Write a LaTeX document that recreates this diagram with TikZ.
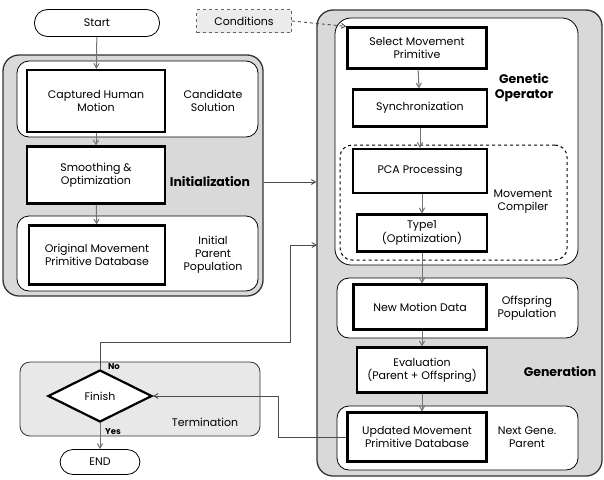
\documentclass[tikz,border=0pt]{standalone}
\usepackage{fontspec}
\setmainfont{Poppins}
\usetikzlibrary{shapes.geometric, arrows, positioning}

\begin{document}
\begin{tikzpicture}[
    x=1pt, y=-1pt,
    font=\fontsize{11}{13}\selectfont,
    block/.style={rectangle, draw=black, line width=2.2pt, fill=white, align=center, inner sep=2pt},
    term/.style={rectangle, rounded corners=13pt, draw=black, line width=0.8pt, fill=white},
    panel/.style={rectangle, rounded corners=16pt, draw=black!80, line width=1.3pt, fill=gray!30},
    group/.style={rectangle, rounded corners=12pt, draw=black, line width=0.8pt, fill=white},
    tag/.style={align=center},
    bigtag/.style={align=center, font=\fontsize{12.5}{15}\selectfont\bfseries},
    arrow/.style={->, >=angle 60, line width=1pt, black!55},
    link/.style={->, >=angle 60, line width=0.9pt, black!70}
]
\useasboundingbox (0,0) rectangle (604,479);

% Background panels
\node[panel, minimum width=260pt, minimum height=241pt] (initp) at (133,175.5) {};
\node[panel, minimum width=285pt, minimum height=466pt] (genp) at (459.5,243) {};
\node[panel, rounded corners=10pt, line width=0.8pt, fill=gray!18, minimum width=240pt, minimum height=74pt] (termp) at (140,399) {};

% Group boxes
\node[group, minimum width=241pt, minimum height=76pt] (candg) at (137.5,99) {};
\node[group, minimum width=241pt, minimum height=75pt] (initg) at (137.5,253.5) {};
\node[group, rounded corners=16pt, minimum width=243pt, minimum height=247pt] (opg) at (456.5,141.5) {};
\node[group, dashed, line width=1pt, minimum width=227pt, minimum height=115pt] (compg) at (453.5,202.5) {};
\node[group, minimum width=241pt, minimum height=60pt] (offg) at (457.5,308) {};
\node[group, minimum width=241pt, minimum height=64pt] (nextg) at (457.5,438) {};

% Start, conditions, end
\node[term, minimum width=125pt, minimum height=27pt] (start) at (97,23) {Start};
\node[rectangle, dashed, draw=black!60, fill=gray!15, line width=0.8pt, minimum width=95pt, minimum height=23pt] (cond) at (244,21) {Conditions};
\node[term, minimum width=80pt, minimum height=25pt] (end) at (100,462) {END};

% Initialization blocks
\node[block, minimum width=138pt, minimum height=62pt] (capt) at (96,101) {Captured Human\\Motion};
\node[block, minimum width=138pt, minimum height=57pt] (smooth) at (96,175) {Smoothing \&\\Optimization};
\node[block, minimum width=136pt, minimum height=59pt] (origdb) at (97,255) {Original Movement\\Primitive Database};

% Generation blocks
\node[block, minimum width=139pt, minimum height=41pt] (select) at (417,48) {Select Movement\\Primitive};
\node[block, minimum width=134pt, minimum height=37pt] (sync) at (420,108) {Synchronization};
\node[block, minimum width=134pt, minimum height=44pt] (pca) at (420,171) {PCA Processing};
\node[block, minimum width=130pt, minimum height=37pt] (type1) at (422,233) {Type1\\(Optimization)};
\node[block, minimum width=133pt, minimum height=45pt] (newmot) at (420,307) {New Motion Data};
\node[block, minimum width=130pt, minimum height=45pt] (eval) at (422,370) {Evaluation\\(Parent + Offspring)};
\node[block, minimum width=139pt, minimum height=49pt] (updb) at (417,437) {Updated Movement\\Primitive Database};

% Termination
\node[diamond, draw=black, line width=2.2pt, fill=white, aspect=2, minimum width=104pt, minimum height=52pt, inner sep=0pt] (finish) at (100,396) {Finish};

% Labels
\node[tag] (candlbl) at (213,101) {Candidate\\Solution};
\node[bigtag] (initlbl) at (210,182) {Initialization};
\node[tag] (poplbl) at (213,255) {Initial\\Parent\\Population};
\node[bigtag] (oplbl) at (524,88) {Genetic\\Operator};
\node[tag] (complbl) at (523,202) {Movement\\Compiler};
\node[tag] (offlbl) at (527,308) {Offspring\\Population};
\node[bigtag] (genlbl) at (560,372) {Generation};
\node[tag] (nextlbl) at (527,437) {Next Gene.\\Parent};
\node[tag] (termlbl) at (205,422) {Termination};
\node[font=\fontsize{8.5}{9}\selectfont\bfseries] (nolbl) at (114,367) {No};
\node[font=\fontsize{8.5}{9}\selectfont\bfseries] (yeslbl) at (113,432) {Yes};

% Turning points
\coordinate (loopx) at (290,342);
\coordinate (backin) at (317,245);
\coordinate (retx) at (278,437);

% Arrows
\draw[arrow] (start) -- (capt);
\draw[arrow] (capt) -- (smooth);
\draw[arrow] (smooth) -- (origdb);
\draw[arrow] (select) -- (sync);
\draw[arrow] (sync.south) -- (sync.south |- pca.north);
\draw[arrow] (pca.south -| type1.north) -- (type1.north);
\draw[arrow] (type1.south) -- (type1.south |- newmot.north);
\draw[arrow] (newmot.south -| eval.north) -- (eval.north);
\draw[arrow] (eval.south) -- (eval.south |- updb.north);
\draw[arrow] (finish.south) -- (end.north -| finish.south);
\draw[link, dashed] (cond.east) -- (select.north west);
\draw[link] (initlbl.east -| initp.east) -- (initlbl.east -| genp.west);
\draw[link] (finish.north) |- (loopx) |- (backin);
\draw[link] (updb.west) -- (retx) |- (finish.east);
\end{tikzpicture}
\end{document}
